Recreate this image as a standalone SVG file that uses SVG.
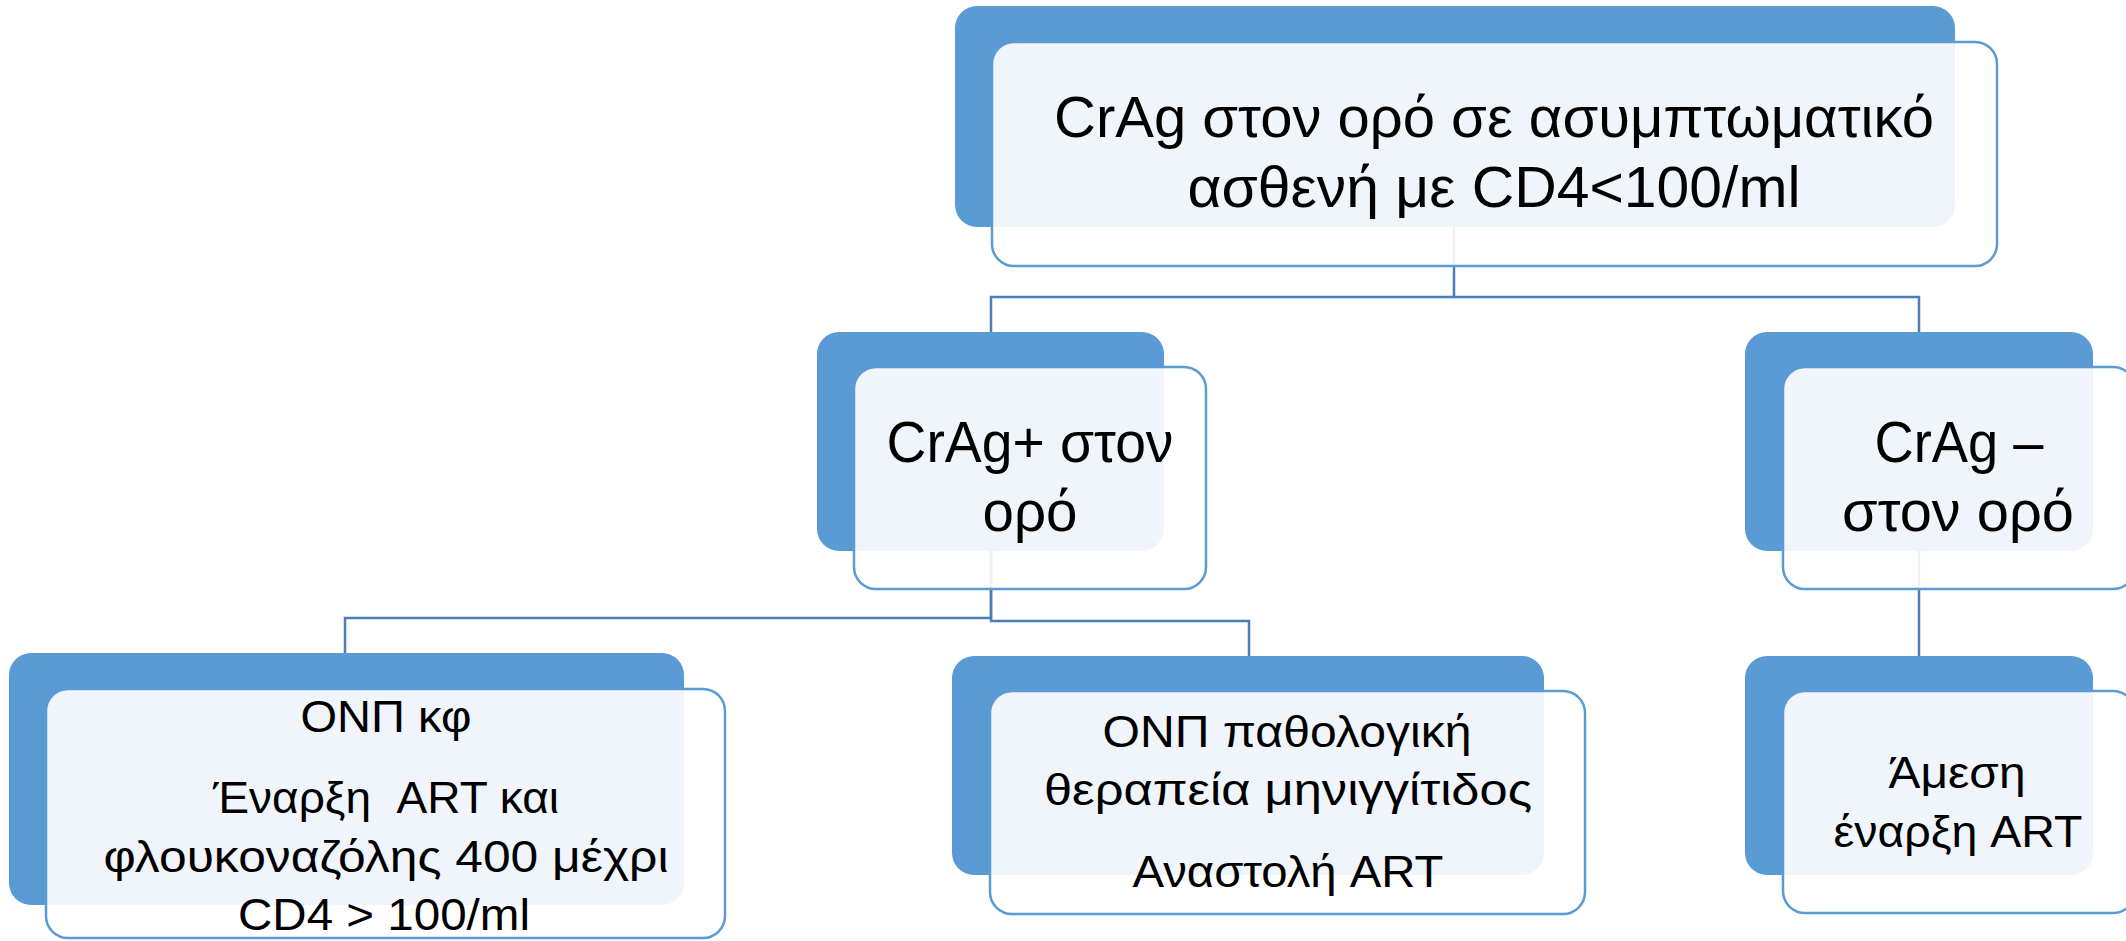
<svg xmlns="http://www.w3.org/2000/svg" width="2126" height="941" viewBox="0 0 2126 941">
<style>
.back{fill:#5B9BD5;}
.front{fill:#FFFFFF;fill-opacity:0.9;stroke:#5B9BD5;stroke-width:2.5;}
.conn{fill:none;stroke:#4A7EB7;stroke-width:2.5;}
text{font-family:"Liberation Sans",Arial,sans-serif;fill:#000;text-anchor:middle;}
.t1{font-size:57px;}
.t2{font-size:57px;}
.t3{font-size:45px;}
</style>
<rect width="2126" height="941" fill="#FFFFFF"/>
<g id="connectors">
<path class="conn" d="M1454 227 V297 H991 V332"/>
<path class="conn" d="M1454 297 H1919 V332"/>
<path class="conn" d="M991 551 V618 H345 V653"/>
<path class="conn" d="M991 551 V621 H1249 V656"/>
<path class="conn" d="M1919 551 V656"/>
</g>
<g id="node-top">
<rect class="back" x="955" y="6" width="1000" height="221" rx="22"/>
<rect class="front" x="992" y="42" width="1005" height="224" rx="22"/>
<text class="t1" x="1494" y="137" textLength="880" lengthAdjust="spacingAndGlyphs">CrAg στον ορό σε ασυμπτωματικό</text>
<text class="t1" x="1494" y="207" textLength="613" lengthAdjust="spacingAndGlyphs">ασθενή με CD4&lt;100/ml</text>
</g>
<g id="node-pos">
<rect class="back" x="817" y="332" width="347" height="219" rx="22"/>
<rect class="front" x="854" y="367" width="352" height="222" rx="22"/>
<text class="t2" x="1030" y="462" textLength="287" lengthAdjust="spacingAndGlyphs">CrAg+ στον</text>
<text class="t2" x="1030" y="531" textLength="95" lengthAdjust="spacingAndGlyphs">ορό</text>
</g>
<g id="node-neg">
<rect class="back" x="1745" y="332" width="348" height="219" rx="22"/>
<rect class="front" x="1783" y="367" width="352" height="222" rx="22"/>
<text class="t2" x="1959" y="462" textLength="169" lengthAdjust="spacingAndGlyphs">CrAg –</text>
<text class="t2" x="1958" y="531" textLength="232" lengthAdjust="spacingAndGlyphs">στον ορό</text>
</g>
<g id="node-csf-neg">
<rect class="back" x="9" y="653" width="675" height="252" rx="22"/>
<rect class="front" x="46" y="689" width="679" height="249" rx="22"/>
<text class="t3" x="386" y="732" textLength="171" lengthAdjust="spacingAndGlyphs">ΟΝΠ κφ</text>
<text class="t3" x="386" y="813" xml:space="preserve" textLength="346" lengthAdjust="spacingAndGlyphs">Έναρξη  ART και</text>
<text class="t3" x="386" y="872" textLength="565" lengthAdjust="spacingAndGlyphs">φλουκοναζόλης 400 μέχρι</text>
<text class="t3" x="384" y="930" textLength="292" lengthAdjust="spacingAndGlyphs">CD4 &gt; 100/ml</text>
</g>
<g id="node-csf-pos">
<rect class="back" x="952" y="656" width="592" height="219" rx="22"/>
<rect class="front" x="990" y="691" width="595" height="223" rx="22"/>
<text class="t3" x="1287" y="747" textLength="369" lengthAdjust="spacingAndGlyphs">ΟΝΠ παθολογική</text>
<text class="t3" x="1288" y="805" textLength="488" lengthAdjust="spacingAndGlyphs">θεραπεία μηνιγγίτιδος</text>
<text class="t3" x="1288" y="887" textLength="311" lengthAdjust="spacingAndGlyphs">Αναστολή ART</text>
</g>
<g id="node-art">
<rect class="back" x="1745" y="656" width="348" height="219" rx="22"/>
<rect class="front" x="1783" y="691" width="352" height="222" rx="22"/>
<text class="t3" x="1957" y="788" textLength="137" lengthAdjust="spacingAndGlyphs">Άμεση</text>
<text class="t3" x="1958" y="847" textLength="249" lengthAdjust="spacingAndGlyphs">έναρξη ART</text>
</g>
</svg>
